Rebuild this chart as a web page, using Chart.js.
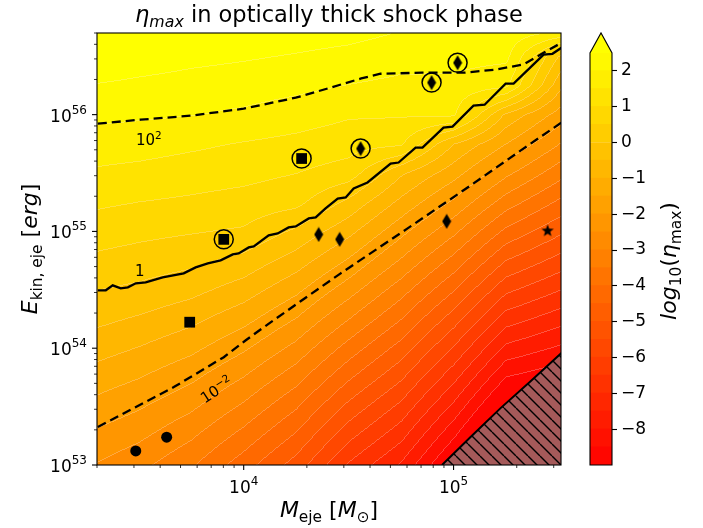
<!DOCTYPE html>
<html>
<head>
<meta charset="utf-8">
<script src="https://cdn.jsdelivr.net/npm/chart.js@4.4.1/dist/chart.umd.min.js"></script>
<style>
  body { margin: 0; background: #fff; }
  #wrap { position: relative; width: 703px; height: 528px; }
  #wrap canvas { position: absolute; top: 0; }
</style>
</head>
<body>
<div id="wrap">
  <canvas id="mainChart" width="703" height="528" style="left:0"></canvas>
  <canvas id="barChart" width="128" height="528" style="left:575px"></canvas>
</div>
<script>
Chart.defaults.font.family = 'DejaVu Sans';

// filled contour levels of log10(eta_max)
var levels = [-9, -8.5, -8, -7.5, -7, -6.5, -6, -5.5, -5, -4.5, -4, -3.5, -3, -2.5, -2, -1.5, -1, -0.5, 0, 0.5, 1, 1.5, 2, 2.5];
var cbTicks = [-8, -7, -6, -5, -4, -3, -2, -1, 0, 1, 2];

// log10(eta_max) on a coarse grid (rows = log10 E, cols = log10 M)
var gridLogM = [3.3, 3.5, 3.75, 4.0, 4.25, 4.5, 4.75, 5.0, 5.25, 5.52];
var gridLogE = [53, 53.25, 53.5, 53.75, 54, 54.25, 54.5, 54.75, 55, 55.25, 55.5, 55.75, 56, 56.25, 56.5, 56.75];
var logEta = [
  [-2.54, -2.86, -3.44, -4.28, -5.23, -6.58, -7.58, -9.23, -11.16, -11.29],
  [-2.12, -2.40, -2.93, -3.69, -4.59, -5.86, -6.86, -8.44, -10.28, -10.50],
  [-1.68, -1.95, -2.41, -3.10, -3.95, -5.15, -6.15, -7.64, -9.41, -9.70],
  [-1.24, -1.49, -1.90, -2.52, -3.31, -4.43, -5.43, -6.85, -8.53, -8.91],
  [-0.80, -1.03, -1.38, -1.93, -2.67, -3.72, -4.72, -6.06, -7.65, -8.12],
  [-0.38, -0.57, -0.87, -1.34, -2.03, -3.00, -4.00, -5.27, -6.77, -7.33],
  [0.00, -0.11, -0.35, -0.75, -1.39, -2.29, -3.29, -4.47, -5.90, -6.53],
  [0.38, 0.27, 0.13, -0.17, -0.75, -1.57, -2.57, -3.68, -5.02, -5.74],
  [0.74, 0.63, 0.53, 0.43, -0.11, -0.86, -1.86, -2.89, -4.14, -4.95],
  [1.08, 0.99, 0.91, 0.81, 0.64, -0.14, -1.14, -2.10, -3.26, -4.16],
  [1.42, 1.35, 1.24, 1.15, 1.00, 0.76, -0.43, -1.30, -2.39, -3.36],
  [1.76, 1.71, 1.59, 1.46, 1.35, 1.21, 1.06, -0.51, -1.51, -2.57],
  [2.11, 2.07, 2.01, 1.91, 1.74, 1.55, 1.54, 1.56, -0.63, -1.78],
  [2.47, 2.40, 2.32, 2.24, 2.13, 1.98, 1.87, 1.87, 1.60, -0.99],
  [2.83, 2.73, 2.62, 2.55, 2.46, 2.35, 2.20, 2.17, 2.12, -0.19],
  [3.19, 3.06, 2.93, 2.85, 2.79, 2.72, 2.54, 2.47, 2.40, 2.30]
];

// contour lines, [log10 M, log10 E]
var line100 = [[3.305, 55.923], [3.510, 55.957], [3.748, 55.991], [4.000, 56.051], [4.248, 56.145], [4.414, 56.231],
  [4.560, 56.310], [4.652, 56.350], [4.850, 56.359], [5.048, 56.359], [5.200, 56.385], [5.333, 56.430],
  [5.429, 56.530], [5.514, 56.615]];
var line1 = [[3.305, 54.496], [3.343, 54.496], [3.376, 54.538], [3.414, 54.513], [3.448, 54.521], [3.486, 54.556],
  [3.533, 54.564], [3.614, 54.607], [3.714, 54.641], [3.771, 54.692], [3.829, 54.726], [3.890, 54.752],
  [3.948, 54.803], [3.976, 54.812], [4.024, 54.863], [4.048, 54.872], [4.119, 54.966], [4.162, 54.983],
  [4.214, 55.034], [4.248, 55.043], [4.310, 55.111], [4.343, 55.120], [4.390, 55.197], [4.448, 55.282],
  [4.486, 55.291], [4.524, 55.368], [4.590, 55.419], [4.700, 55.581], [4.738, 55.590], [4.819, 55.718],
  [4.852, 55.718], [4.952, 55.889], [4.995, 55.897], [5.095, 56.077], [5.148, 56.085], [5.248, 56.265],
  [5.286, 56.265], [5.429, 56.513], [5.471, 56.521], [5.514, 56.573]];
var line001 = [[3.305, 53.325], [3.476, 53.487], [3.667, 53.667], [3.905, 53.923], [4.010, 54.068], [4.095, 54.179],
  [4.271, 54.402], [4.462, 54.641], [4.781, 55.026], [5.067, 55.376], [5.319, 55.692], [5.514, 55.932]];
// edge of the hatched (excluded) region
var hatchEdge = [[4.945, 53.0], [5.081, 53.239], [5.224, 53.487], [5.367, 53.718], [5.530, 53.985]];

// objects
var ringedSquareM = [8035, 18880], ringedSquareE = [8.55e54, 4.21e55];
var ringedDiamondM = [36060, 78560, 104500], ringedDiamondE = [5.12e55, 1.88e56, 2.78e56];
var diamondM = [22760, 28650, 92700], diamondE = [9.42e54, 8.55e54, 1.22e55];
var squareM = [5530], squareE = [1.67e54];
var dotM = [3060, 4295], dotE = [1.32e53, 1.73e53];
var starM = [280500], starE = [1.02e55];

// axis ticks
var xTicks = [], yTicks = [];
[3, 4, 5].forEach(function(e) { for (var k = 1; k <= 9; k++) xTicks.push(k * Math.pow(10, e)); });
[53, 54, 55, 56].forEach(function(e) { for (var k = 1; k <= 9; k++) yTicks.push(k * Math.pow(10, e)); });

function pts(list) {
  return list.map(function(p) { return {x: Math.pow(10, p[0]), y: Math.pow(10, p[1])}; });
}
function pairs(ms, es) {
  return ms.map(function(m, i) { return {x: m, y: es[i]}; });
}

// colours: autumn colormap over the level range, extended max = yellow
var bandColors = [];
for (var b = 0; b < levels.length - 1; b++) {
  var mid = (levels[b] + levels[b + 1]) / 2;
  var t = (mid - levels[0]) / (levels[levels.length - 1] - levels[0]);
  bandColors.push([255, Math.round(255 * t), 0]);
}
bandColors.push([255, 255, 0]);
function bandOf(v) {
  var k = 0;
  while (k < levels.length && v >= levels[k]) k++;
  return Math.max(0, k - 1);
}
function locate(arr, v) {
  if (v <= arr[0]) return [0, 0];
  for (var i = 0; i < arr.length - 1; i++) {
    if (v <= arr[i + 1]) return [i, (v - arr[i]) / (arr[i + 1] - arr[i])];
  }
  return [arr.length - 2, 1];
}

var fieldPlugin = {
  id: 'field',
  beforeDatasetsDraw: function(chart) {
    var ctx = chart.ctx, a = chart.chartArea;
    var xs = chart.scales.x, ys = chart.scales.y;
    var x0 = Math.round(a.left), y0 = Math.round(a.top);
    var w = Math.round(a.right) - x0, h = Math.round(a.bottom) - y0;
    var cols = [], rows = [], i, j;
    for (i = 0; i < w; i++) cols.push(locate(gridLogM, Math.log10(xs.getValueForPixel(x0 + i + 0.5))));
    for (j = 0; j < h; j++) rows.push(locate(gridLogE, Math.log10(ys.getValueForPixel(y0 + j + 0.5))));
    var band = new Int16Array(w * h);
    for (j = 0; j < h; j++) {
      var r = rows[j], lo = logEta[r[0]], hi = logEta[r[0] + 1];
      for (i = 0; i < w; i++) {
        var c = cols[i], f = c[1];
        var v0 = lo[c[0]] * (1 - f) + lo[c[0] + 1] * f;
        var v1 = hi[c[0]] * (1 - f) + hi[c[0] + 1] * f;
        band[j * w + i] = bandOf(v0 * (1 - r[1]) + v1 * r[1]);
      }
    }
    var img = ctx.createImageData(w, h);
    for (j = 0; j < h; j++) {
      for (i = 0; i < w; i++) {
        var k = j * w + i, bb = band[k], col = bandColors[bb];
        var seam = (i > 0 && band[k - 1] !== bb) || (j > 0 && band[k - w] !== bb);
        var m = seam ? 0.25 : 0;
        img.data[4 * k] = col[0] + (255 - col[0]) * m;
        img.data[4 * k + 1] = col[1] + (255 - col[1]) * m;
        img.data[4 * k + 2] = col[2] + (255 - col[2]) * m;
        img.data[4 * k + 3] = 255;
      }
    }
    ctx.putImageData(img, x0, y0);
  }
};

function fontOf(p) { return (p[2] ? 'italic ' : '') + p[1] + 'px "DejaVu Sans"'; }
function drawParts(ctx, parts, x, y, align) {
  var widths = [], total = 0;
  parts.forEach(function(p) { ctx.font = fontOf(p); var w = ctx.measureText(p[0]).width; widths.push(w); total += w; });
  var cx = align === 'center' ? x - total / 2 : (align === 'right' ? x - total : x);
  ctx.textAlign = 'left';
  ctx.textBaseline = 'alphabetic';
  ctx.fillStyle = '#000';
  parts.forEach(function(p, k) { ctx.font = fontOf(p); ctx.fillText(p[0], cx, y + (p[3] || 0)); cx += widths[k]; });
}
function isPow10(v) { var l = Math.log10(v); return Math.abs(l - Math.round(l)) < 1e-9; }

var framePlugin = {
  id: 'frame',
  afterDraw: function(chart) {
    var ctx = chart.ctx, a = chart.chartArea, xs = chart.scales.x, ys = chart.scales.y;
    ctx.save();
    // contour labels
    var lab = [
      [3.548, 55.786, [['10', 15, false, 0], ['2', 10.5, false, -6]], 0],
      [3.505, 54.658, [['1', 15, false, 0]], 0],
      [3.871, 53.641, [['10', 15, false, 0], ['\u22122', 10.5, false, -6]], -33]
    ];
    lab.forEach(function(l) {
      ctx.save();
      ctx.translate(xs.getPixelForValue(Math.pow(10, l[0])), ys.getPixelForValue(Math.pow(10, l[1])));
      ctx.rotate(l[3] * Math.PI / 180);
      drawParts(ctx, l[2], 0, 5, 'center');
      ctx.restore();
    });
    // frame
    ctx.strokeStyle = '#000';
    ctx.lineWidth = 1.1;
    ctx.strokeRect(a.left, a.top, a.right - a.left, a.bottom - a.top);
    // ticks
    xTicks.forEach(function(v) {
      if (v < xs.min || v > xs.max) return;
      var px = xs.getPixelForValue(v), major = isPow10(v);
      ctx.lineWidth = major ? 1.1 : 0.8;
      ctx.beginPath(); ctx.moveTo(px, a.bottom); ctx.lineTo(px, a.bottom + (major ? 5 : 3)); ctx.stroke();
      if (major) drawParts(ctx, [['10', 17, false, 0], [String(Math.round(Math.log10(v))), 12, false, -8]], px, a.bottom + 28, 'center');
    });
    yTicks.forEach(function(v) {
      if (v < ys.min || v > ys.max) return;
      var py = ys.getPixelForValue(v), major = isPow10(v);
      ctx.lineWidth = major ? 1.1 : 0.8;
      ctx.beginPath(); ctx.moveTo(a.left, py); ctx.lineTo(a.left - (major ? 5 : 3), py); ctx.stroke();
      if (major) drawParts(ctx, [['10', 17, false, 0], [String(Math.round(Math.log10(v))), 12, false, -8]], a.left - 10, py + 7, 'right');
    });
    // title and axis labels
    drawParts(ctx, [['\u03b7', 22.5, true, 0], ['max', 15.8, true, 4.5], [' in optically thick shock phase', 22.5, false, 0]], (a.left + a.right) / 2, 22, 'center');
    drawParts(ctx, [['M', 22, true, 0], ['eje', 15.4, false, 4.5], [' [', 22, false, 0], ['M', 22, true, 0], ['\u2299', 15.4, false, 4.5], [']', 22, false, 0]], (a.left + a.right) / 2, 517, 'center');
    ctx.translate(37, (a.top + a.bottom) / 2);
    ctx.rotate(-Math.PI / 2);
    drawParts(ctx, [['E', 22, true, 0], ['kin, eje', 15.4, false, 4.5], [' [', 22, false, 0], ['erg', 22, true, 0], [']', 22, false, 0]], 0, 0, 'center');
    ctx.restore();
  }
};

// marker shapes
function makeDiamond() {
  var c = document.createElement('canvas'); c.width = 10; c.height = 16;
  var g = c.getContext('2d'); g.fillStyle = '#000';
  g.beginPath(); g.moveTo(5, 0.5); g.lineTo(9.5, 8); g.lineTo(5, 15.5); g.lineTo(0.5, 8); g.closePath(); g.fill();
  return c;
}
function makeStar() {
  var c = document.createElement('canvas'); c.width = 14; c.height = 14;
  var g = c.getContext('2d'); g.fillStyle = '#000';
  g.beginPath();
  for (var k = 0; k < 10; k++) {
    var rr = k % 2 ? 2.7 : 6.5, ang = -Math.PI / 2 + k * Math.PI / 5;
    g.lineTo(7 + rr * Math.cos(ang), 7.5 + rr * Math.sin(ang));
  }
  g.closePath(); g.fill();
  return c;
}
function makeHatch() {
  var s = 12, c = document.createElement('canvas'); c.width = s; c.height = s;
  var g = c.getContext('2d');
  g.fillStyle = '#a55a5a'; g.fillRect(0, 0, s, s);
  g.strokeStyle = '#000'; g.lineWidth = 1.4;
  [-1, 0, 1].forEach(function(k) { g.beginPath(); g.moveTo(k * s, 0); g.lineTo(k * s + s, s); g.stroke(); });
  return document.getElementById('mainChart').getContext('2d').createPattern(c, 'repeat');
}
var diamondImg = makeDiamond(), starImg = makeStar();

function lineSet(list, dash) {
  return {type: 'line', data: pts(list), showLine: true, borderColor: '#000', borderWidth: 2.3,
    borderDash: dash, pointRadius: 0, fill: false, tension: 0};
}

new Chart(document.getElementById('mainChart'), {
  type: 'scatter',
  data: {
    datasets: [
      {data: pairs(ringedSquareM.concat(ringedDiamondM), ringedSquareE.concat(ringedDiamondE)),
        pointStyle: 'circle', pointRadius: 9.5, pointBackgroundColor: 'rgba(0,0,0,0)', pointBorderColor: '#000', pointBorderWidth: 1.5},
      {data: pairs(ringedSquareM.concat(squareM), ringedSquareE.concat(squareE)),
        pointStyle: 'rect', pointRadius: 7.6, pointBackgroundColor: '#000', pointBorderWidth: 0},
      {data: pairs(ringedDiamondM.concat(diamondM), ringedDiamondE.concat(diamondE)),
        pointStyle: diamondImg, pointRadius: 6},
      {data: pairs(dotM, dotE), pointStyle: 'circle', pointRadius: 5.5, pointBackgroundColor: '#000', pointBorderWidth: 0},
      {data: pairs(starM, starE), pointStyle: starImg, pointRadius: 6},
      lineSet(line100, [9, 5]),
      lineSet(line1, []),
      lineSet(line001, [9, 5]),
      {type: 'line', data: pts(hatchEdge), showLine: true, borderColor: '#000', borderWidth: 2,
        backgroundColor: makeHatch(), fill: 'start', pointRadius: 0, tension: 0}
    ]
  },
  options: {
    responsive: false,
    animation: false,
    devicePixelRatio: 1,
    layout: {padding: {left: 0, right: 142, top: 33, bottom: 0}},
    plugins: {legend: {display: false}, tooltip: {enabled: false}},
    scales: {
      x: {type: 'logarithmic', min: 2000, max: 325000, grid: {display: false}, border: {display: false},
        ticks: {display: false}, afterFit: function(s) { s.height = 63; }},
      y: {type: 'logarithmic', min: 1e53, max: 5e56, grid: {display: false}, border: {display: false},
        ticks: {display: false}, afterFit: function(s) { s.width = 97; }}
    }
  },
  plugins: [fieldPlugin, framePlugin]
});

// colour bar
var cbPlugin = {
  id: 'cbOutline',
  afterDraw: function(chart) {
    var ctx = chart.ctx, a = chart.chartArea, cx = (a.left + a.right) / 2;
    ctx.save();
    ctx.fillStyle = 'rgb(255,255,0)';
    ctx.beginPath(); ctx.moveTo(a.left, a.top); ctx.lineTo(cx, a.top - 20); ctx.lineTo(a.right, a.top); ctx.closePath(); ctx.fill();
    ctx.strokeStyle = '#000'; ctx.lineWidth = 1.1;
    ctx.beginPath();
    ctx.moveTo(a.left, a.bottom); ctx.lineTo(a.left, a.top); ctx.lineTo(cx, a.top - 20);
    ctx.lineTo(a.right, a.top); ctx.lineTo(a.right, a.bottom); ctx.closePath(); ctx.stroke();
    ctx.translate(101, (a.top + a.bottom) / 2 + 2);
    ctx.rotate(-Math.PI / 2);
    drawParts(ctx, [['log', 22, true, 0], ['10', 15.4, false, 4.5], ['(', 22, false, 0], ['\u03b7', 22, true, 0], ['max', 15.4, false, 4.5], [')', 22, false, 0]], 0, 0, 'center');
    ctx.restore();
  }
};

new Chart(document.getElementById('barChart'), {
  type: 'bar',
  data: {
    labels: [''],
    datasets: levels.slice(0, -1).map(function(lv, k) {
      var c = bandColors[k];
      return {data: [[lv, levels[k + 1]]], backgroundColor: 'rgb(' + c[0] + ',' + c[1] + ',' + c[2] + ')',
        grouped: false, barPercentage: 1, categoryPercentage: 1, borderWidth: 0, inflateAmount: 0.6};
    })
  },
  options: {
    responsive: false,
    animation: false,
    devicePixelRatio: 1,
    layout: {padding: {left: 15, right: 0, top: 53, bottom: 63}},
    plugins: {legend: {display: false}, tooltip: {enabled: false}},
    scales: {
      x: {display: false},
      y: {position: 'right', min: -9, max: 2.5,
        afterFit: function(s) { s.width = 91; },
        afterBuildTicks: function(s) { s.ticks = cbTicks.map(function(v) { return {value: v}; }); },
        grid: {drawOnChartArea: false, tickLength: 5, tickWidth: 1.1, tickColor: '#000'},
        border: {display: false},
        ticks: {padding: 4, color: '#000', font: {size: 17},
          callback: function(v) { return v < 0 ? '\u2212' + (-v) : String(v); }}}
    }
  },
  plugins: [cbPlugin]
});
</script>
</body>
</html>
